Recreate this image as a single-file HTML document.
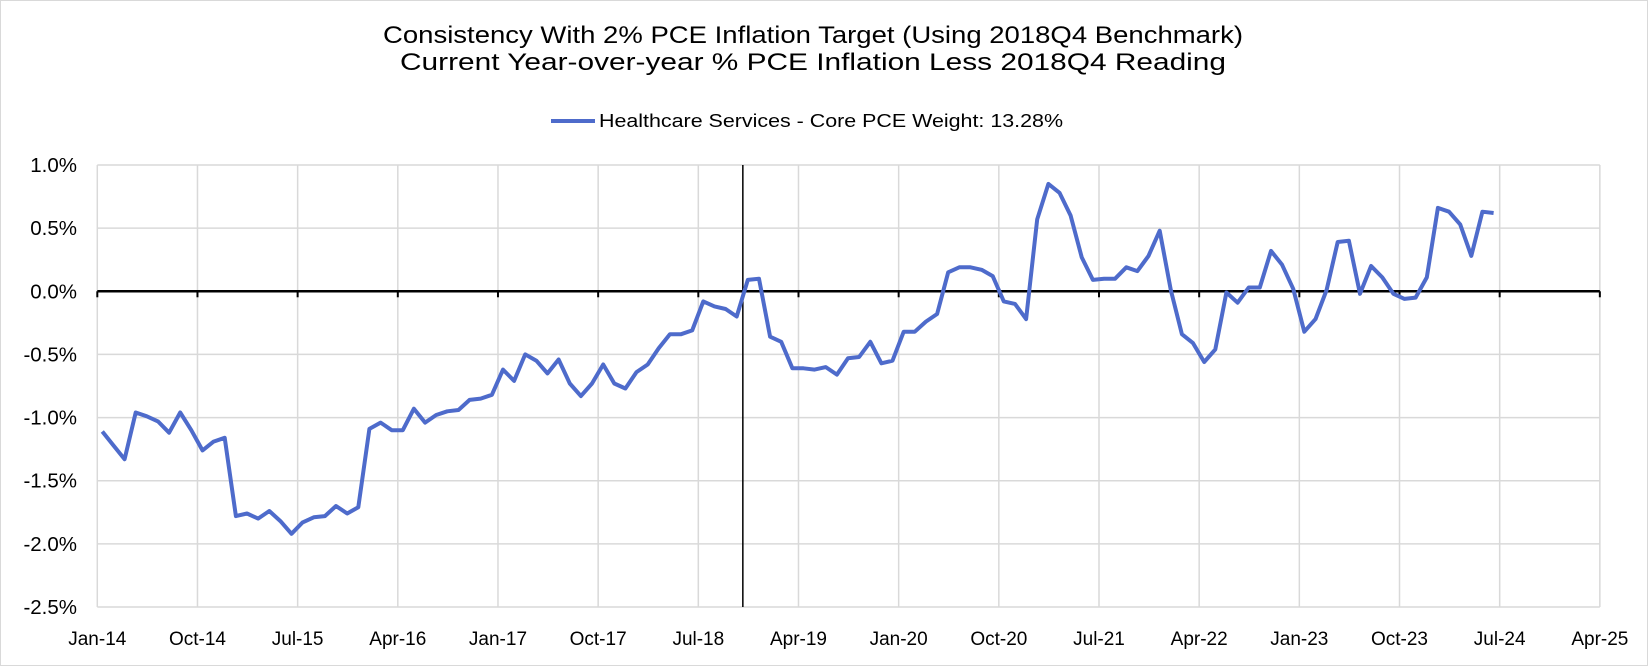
<!DOCTYPE html>
<html><head><meta charset="utf-8"><style>
body{margin:0;background:#fff;}
svg{display:block;font-family:"Liberation Sans",sans-serif;}
</style></head><body>
<svg id="chart" width="1648" height="666" viewBox="0 0 1648 666" xmlns="http://www.w3.org/2000/svg">
<rect x="0.5" y="0.5" width="1647" height="665" fill="#fff" stroke="#d9d9d9"/>
<text x="813" y="43" text-anchor="middle" font-size="24" textLength="860" lengthAdjust="spacingAndGlyphs" fill="#000">Consistency With 2% PCE Inflation Target (Using 2018Q4 Benchmark)</text>
<text x="813" y="70" text-anchor="middle" font-size="24" textLength="826" lengthAdjust="spacingAndGlyphs" fill="#000">Current Year-over-year % PCE Inflation Less 2018Q4 Reading</text>
<g>
<line x1="551" y1="121" x2="595" y2="121" stroke="#4e6bcb" stroke-width="4"/>
<text x="599" y="127" font-size="18" textLength="464" lengthAdjust="spacingAndGlyphs" fill="#000">Healthcare Services - Core PCE Weight: 13.28%</text>
</g>
<g id="grid"></g><g id="axes"></g><g id="series"></g>
</svg>
<script>
const values=[-1.11,-1.22,-1.33,-0.96,-0.99,-1.03,-1.12,-0.96,-1.10,-1.26,-1.19,-1.16,
-1.78,-1.76,-1.80,-1.74,-1.82,-1.92,-1.83,-1.79,-1.78,-1.70,-1.76,-1.71,
-1.09,-1.04,-1.10,-1.10,-0.93,-1.04,-0.98,-0.95,-0.94,-0.86,-0.85,-0.82,
-0.62,-0.71,-0.50,-0.55,-0.65,-0.54,-0.73,-0.83,-0.73,-0.58,-0.73,-0.77,
-0.64,-0.58,-0.45,-0.34,-0.34,-0.31,-0.08,-0.12,-0.14,-0.20,0.09,0.10,
-0.36,-0.40,-0.61,-0.61,-0.62,-0.60,-0.66,-0.53,-0.52,-0.40,-0.57,-0.55,
-0.32,-0.32,-0.24,-0.18,0.15,0.19,0.19,0.17,0.12,-0.08,-0.10,-0.22,
0.57,0.85,0.78,0.60,0.27,0.09,0.10,0.10,0.19,0.16,0.28,0.48,
0.01,-0.34,-0.41,-0.56,-0.46,-0.01,-0.09,0.03,0.03,0.32,0.21,0.02,
-0.32,-0.22,0.01,0.39,0.40,-0.02,0.20,0.11,-0.02,-0.06,-0.05,0.11,
0.66,0.63,0.53,0.28,0.63,0.62];
const yTicks=[1.0,0.5,0.0,-0.5,-1.0,-1.5,-2.0,-2.5];
const xTickLabels=["Jan-14","Oct-14","Jul-15","Apr-16","Jan-17","Oct-17","Jul-18","Apr-19","Jan-20","Oct-20","Jul-21","Apr-22","Jan-23","Oct-23","Jul-24","Apr-25"];
const NS="http://www.w3.org/2000/svg";
const x0=97.3,dx=11.13,yTop=165,yBot=607,vMax=1.0,vMin=-2.5;
const X=m=>x0+m*dx;
const Y=v=>yTop+(vMax-v)/(vMax-vMin)*(yBot-yTop);
function mk(tag,attrs,parent){const e=document.createElementNS(NS,tag);for(const k in attrs)e.setAttribute(k,attrs[k]);parent.appendChild(e);return e;}
const grid=document.getElementById('grid'),axes=document.getElementById('axes'),series=document.getElementById('series');
yTicks.forEach(v=>{
 if(v!==0){const l=mk('line',{x1:X(0),x2:X(135),y1:Y(v),y2:Y(v),stroke:'#d9d9d9','stroke-width':1.5},grid);
 
 }
 const t=mk('text',{x:77,y:Y(v)+7,'text-anchor':'end','font-size':20.5,fill:'#000'},axes);
 t.textContent=v.toFixed(1)+'%';
 
 
});
xTickLabels.forEach((s,i)=>{
 const xx=X(i*9);
 const l=mk('line',{x1:xx,x2:xx,y1:yTop,y2:yBot,stroke:'#d9d9d9','stroke-width':1.5},grid);
 
 
 const tk=mk('line',{x1:xx,x2:xx,y1:Y(0),y2:Y(0)+6,stroke:'#000','stroke-width':2},axes);
 
 
 const t=mk('text',{x:xx,y:645,'text-anchor':'middle','font-size':19,fill:'#000'},axes);
 t.textContent=s;
 
 
});
const za=mk('line',{x1:X(0),x2:X(135),y1:Y(0),y2:Y(0),stroke:'#000','stroke-width':2.5},axes);


const va=mk('line',{x1:X(58),x2:X(58),y1:yTop,y2:yBot,stroke:'#000','stroke-width':1.5},axes);


const pts=values.map((v,i)=>(X(i+0.45)).toFixed(1)+','+Y(v).toFixed(1)).join(' ');
const pl=mk('polyline',{points:pts,fill:'none',stroke:'#4e6bcb','stroke-width':4,'stroke-linejoin':'round'},series);


</script>
</body></html>
